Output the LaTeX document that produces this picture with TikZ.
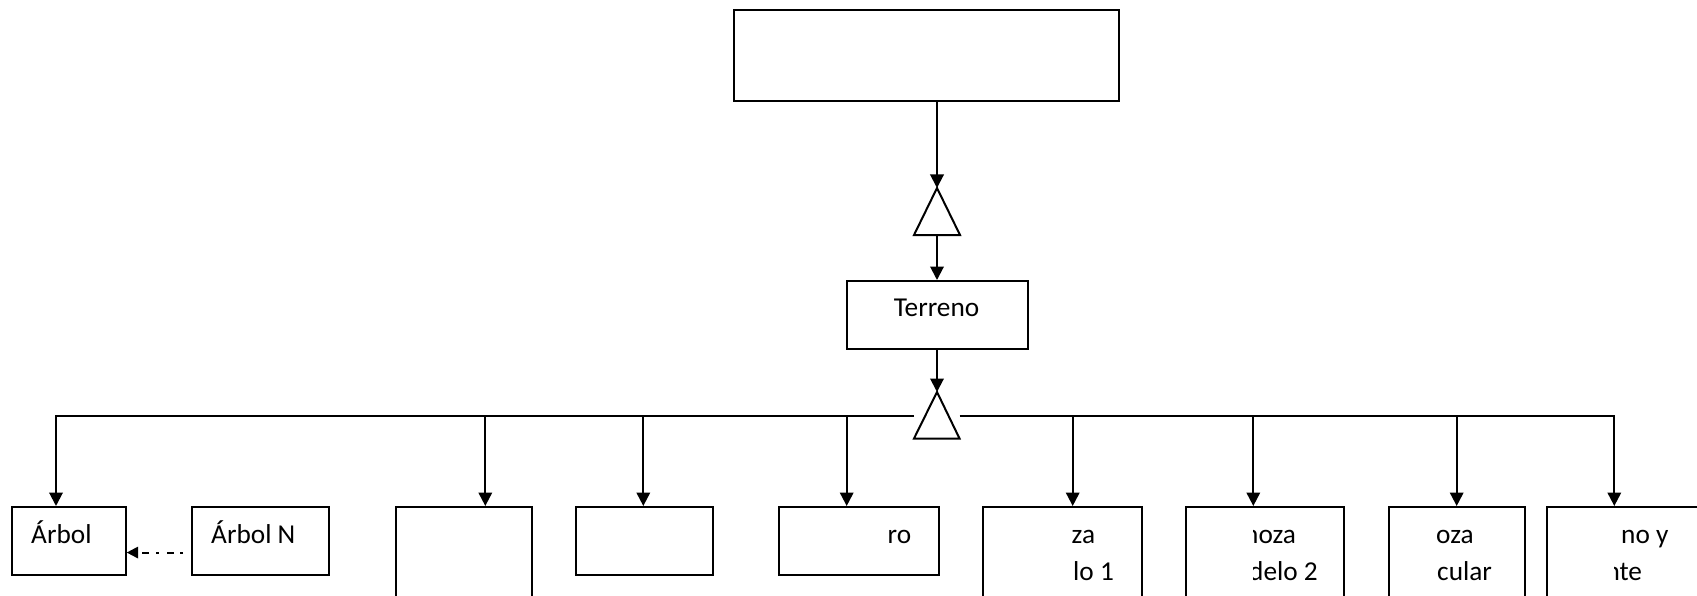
\documentclass[tikz,border=0pt]{standalone}
\usepackage{fontspec}
\setmainfont{Carlito}
\usetikzlibrary{arrows.meta,calc}
\begin{document}
\begin{tikzpicture}[x=1pt,y=-1pt,
  box/.style={draw, line width=2pt, inner sep=0pt, anchor=north west},
  arr/.style={line width=2pt, -{Triangle[length=13.5pt,width=13.5pt]}},
  tri/.style={draw, line width=2pt, line join=miter},
  lbl/.style={inner sep=0pt, anchor=base west, font=\fontsize{27.3}{33}\selectfont},
  dasharr/.style={line width=2pt, dash pattern=on 3pt off 6.5pt on 7pt off 8pt,
                  dash phase=16.5pt, -{Triangle[length=11.5pt,width=11.5pt]}}
]
\useasboundingbox (0,0) rectangle (1697,596);
\clip (0,0) rectangle (1697,596);

% upper part
\node[box, minimum width=385pt, minimum height=91pt] (top) at (733,9) {};
\node[box, minimum width=181pt, minimum height=68pt] (terreno) at (846,280) {};
\node[lbl, anchor=base] (lterreno) at (936.5,316.7) {Terreno};

% inheritance triangles
\coordinate (t1a) at (937,188);
\coordinate (t1l) at (914,235);
\coordinate (t1r) at (960,235);
\draw[tri] (t1a) -- (t1r) -- (t1l) -- cycle;
\coordinate (t2a) at (937,392);
\coordinate (t2l) at (914,438.5);
\coordinate (t2r) at (959.5,438.5);
\draw[tri] (t2a) -- (t2r) -- (t2l) -- cycle;

\draw[arr] (t1a |- top.south) -- (t1a);
\draw[arr] (t1a |- t1l) -- (t1a |- terreno.north);
\draw[arr] (t2a |- terreno.south) -- (t2a);

% lower row of boxes
\node[box, minimum width=113.7pt, minimum height=67.7pt] (b1) at (11,506) {};
\node[box, minimum width=137pt,   minimum height=67.7pt] (b2) at (191,506) {};
\node[box, minimum width=136pt,   minimum height=120pt]  (b3) at (395,506) {};
\node[box, minimum width=136.4pt, minimum height=67.7pt] (b4) at (575.3,506) {};
\node[box, minimum width=159.4pt, minimum height=67.7pt] (b5) at (778.3,506) {};
\node[box, minimum width=158.4pt, minimum height=120pt]  (b6) at (982.3,506) {};
\node[box, minimum width=157.7pt, minimum height=120pt]  (b7) at (1185,506) {};
\node[box, minimum width=136pt,   minimum height=120pt]  (b8) at (1388.3,506) {};
\node[box, minimum width=180pt,   minimum height=120pt]  (b9) at (1546,506) {};

% labels
\node[lbl] (l1)  at (31,543.3)     {Árbol};
\node[lbl] (l2)  at (211,543.3)    {Árbol N};
\node[lbl] (l5)  at (887.5,543.3)  {ro};
\node[lbl] (l6a) at (1071.5,543.3) {za};
\node[lbl] (l6b) at (1073,580.7)   {lo 1};
\begin{scope}
  \clip (1253.5,500) rectangle (1345,600);
  \node[lbl] (l7a) at (1244,543.3) {noza};
  \node[lbl] (l7b) at (1249,580.7) {delo 2};
\end{scope}
\node[lbl] (l8a) at (1436,543.3)   {oza};
\node[lbl] (l8b) at (1437,580.7)   {cular};
\node[lbl] (l9a) at (1621,543.3)   {no y};
\begin{scope}
  \clip (1614.5,500) rectangle (1700,600);
  \node[lbl] (l9b) at (1605.3,580.7) {nte};
\end{scope}

% bus and drops
\coordinate (bus) at (0,416);
\coordinate (j1) at (56,416);
\coordinate (j3) at (485.3,416);
\coordinate (j4) at (643.3,416);
\coordinate (j5) at (846.7,416);
\coordinate (j6) at (1072.7,416);
\coordinate (j7) at (1253.3,416);
\coordinate (j8) at (1456.7,416);
\coordinate (j9) at (1614.3,416);
\draw[arr] (t2l |- bus) -- (j1) -- (j1 |- b1.north);
\draw[arr] (t2r |- bus) -- (j9) -- (j9 |- b9.north);
\foreach \j/\b in {j3/b3, j4/b4, j5/b5, j6/b6, j7/b7, j8/b8}
  \draw[arr] (\j) -- (\j |- \b.north);

% dash-dot link
\draw[dasharr] ([yshift=-11.7pt]b2.west) -- ([yshift=-11.7pt]b1.east);
\end{tikzpicture}
\end{document}
